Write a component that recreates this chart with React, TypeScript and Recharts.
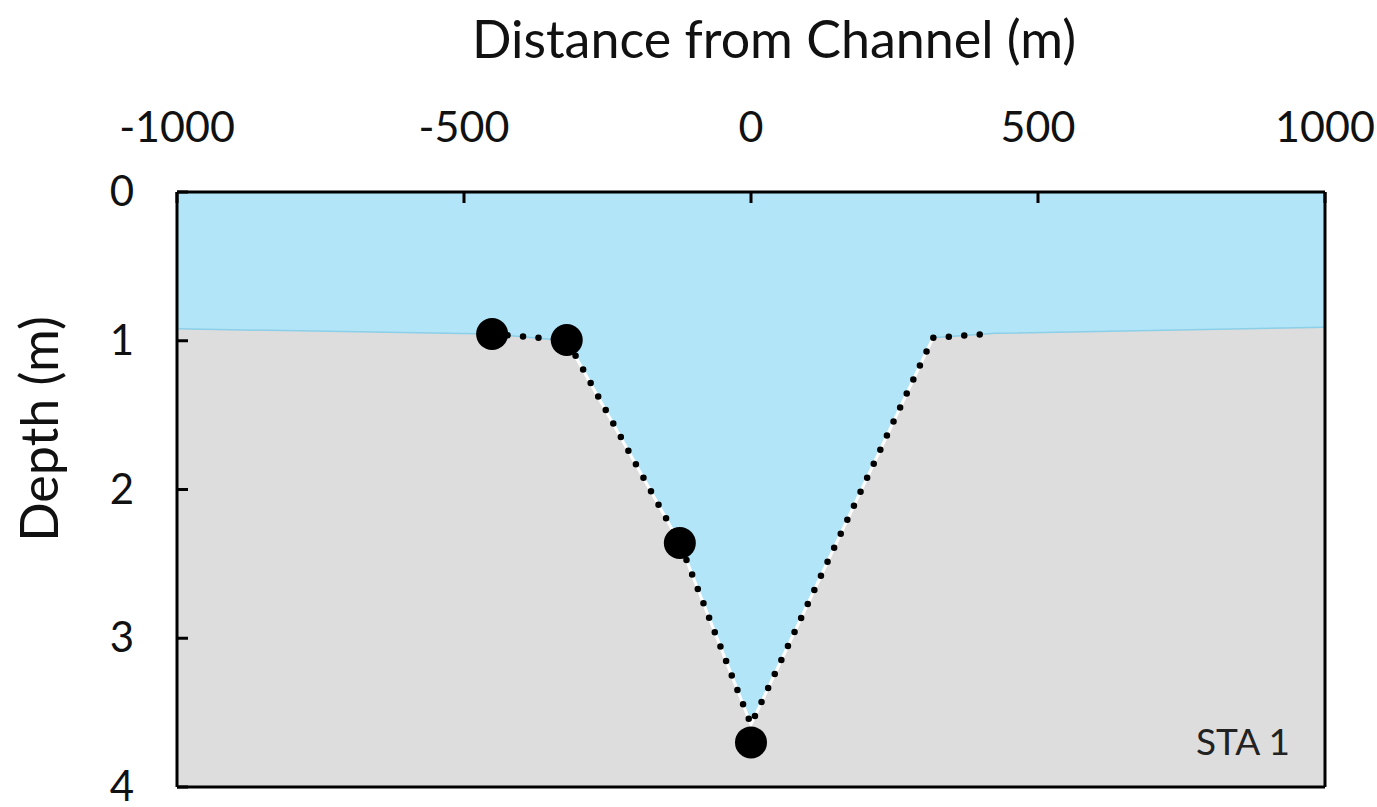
import {
  ComposedChart,
  Area,
  Line,
  XAxis,
  YAxis,
  CartesianGrid,
  Label,
} from 'recharts';

// distance from channel centre (m) and depths (m)
const distances = [-1000, -451, -321, -124, 0, 317, 425, 1000];
const bedDepth = [0.92, 0.955, 1.0, 2.36, 3.58, 0.98, 0.95, 0.91];
const profileDepth = [null, 0.955, 0.995, 2.36, 3.58, 0.98, 0.95, null];
const slopeEdge = [null, null, 1.0, 2.36, 3.58, 0.98, null, null];
const sampleDepth = [null, 0.955, 0.995, 2.36, 3.7, null, null, null];

const xTicks = [-1000, -500, 0, 500, 1000];
const yTicks = [0, 1, 2, 3, 4];

const data = distances.map((x, i) => ({
  x,
  bed: bedDepth[i],
  profile: profileDepth[i],
  edge: slopeEdge[i],
  sample: sampleDepth[i],
}));

const FONT = 'Lato, "Open Sans", sans-serif';

const TopTick = ({ x, y, payload }: any) => (
  <g>
    <line x1={x} y1={y} x2={x} y2={y + 11} stroke="#000" strokeWidth={3} />
    <text
      x={x}
      y={y - 50}
      textAnchor="middle"
      fontFamily={FONT}
      fontSize={43}
      fill="#111"
    >
      {payload.value}
    </text>
  </g>
);

const LeftTick = ({ x, y, payload }: any) => (
  <g>
    <line x1={x} y1={y} x2={x + 11} y2={y} stroke="#000" strokeWidth={3} />
    <text
      x={x - 55}
      y={y + 14}
      textAnchor="middle"
      fontFamily={FONT}
      fontSize={42}
      fill="#111"
    >
      {payload.value}
    </text>
  </g>
);

export default function App() {
  return (
    <div style={{ position: 'absolute', left: 0, top: 0, background: '#fff' }}>
      <ComposedChart
        width={1377}
        height={807}
        data={data}
        margin={{ top: 0, right: 51, bottom: 19, left: 0 }}
      >
        <CartesianGrid
          horizontal={false}
          vertical={false}
          fill="#b1e5f7"
          fillOpacity={1}
        />
        <Area
          type="linear"
          dataKey="bed"
          baseValue={4}
          fill="#dddddd"
          fillOpacity={1}
          stroke="#8ccfe8"
          strokeWidth={1.5}
          isAnimationActive={false}
        />
        <Line
          type="linear"
          dataKey="edge"
          stroke="#ffffff"
          strokeWidth={3}
          dot={false}
          isAnimationActive={false}
        />
        <Line
          type="linear"
          dataKey="profile"
          stroke="#000"
          strokeWidth={6.5}
          strokeDasharray="0 15.5"
          strokeLinecap="round"
          dot={false}
          isAnimationActive={false}
        />
        <Line
          type="linear"
          dataKey="sample"
          stroke="none"
          dot={{ r: 16, fill: '#000', stroke: 'none' }}
          isAnimationActive={false}
        />
        <XAxis
          dataKey="x"
          type="number"
          orientation="top"
          domain={[-1000, 1000]}
          ticks={xTicks}
          height={192}
          tickSize={0}
          tickMargin={0}
          tickLine={false}
          tick={<TopTick />}
          axisLine={{ stroke: '#000', strokeWidth: 3 }}
          allowDataOverflow
        >
          <Label
            content={({ viewBox }: any) => (
              <text
                x={viewBox.x + viewBox.width / 2 + 23}
                y={58}
                textAnchor="middle"
                fontFamily={FONT}
                fontSize={52}
                fill="#111"
              >
                Distance from Channel (m)
              </text>
            )}
          />
        </XAxis>
        <XAxis
          xAxisId="bottom"
          dataKey="x"
          type="number"
          orientation="bottom"
          domain={[-1000, 1000]}
          height={1}
          tick={false}
          tickLine={false}
          axisLine={{ stroke: '#000', strokeWidth: 3 }}
        />
        <YAxis
          type="number"
          orientation="left"
          reversed
          domain={[0, 4]}
          ticks={yTicks}
          width={177}
          tickSize={0}
          tickMargin={0}
          tickLine={false}
          tick={<LeftTick />}
          axisLine={{ stroke: '#000', strokeWidth: 3 }}
          allowDataOverflow
        >
          <Label
            content={() => (
              <g>
                <text
                  x={0}
                  y={0}
                  transform="translate(58 429) rotate(-90)"
                  textAnchor="middle"
                  fontFamily={FONT}
                  fontSize={52}
                  fill="#111"
                >
                  Depth (m)
                </text>
                <text
                  x={1290}
                  y={755}
                  textAnchor="end"
                  fontFamily={FONT}
                  fontSize={37}
                  fill="#222"
                >
                  STA 1
                </text>
              </g>
            )}
          />
        </YAxis>
        <YAxis
          yAxisId="right"
          orientation="right"
          reversed
          domain={[0, 4]}
          width={1}
          tick={false}
          tickLine={false}
          axisLine={{ stroke: '#000', strokeWidth: 3 }}
        />
      </ComposedChart>
    </div>
  );
}
